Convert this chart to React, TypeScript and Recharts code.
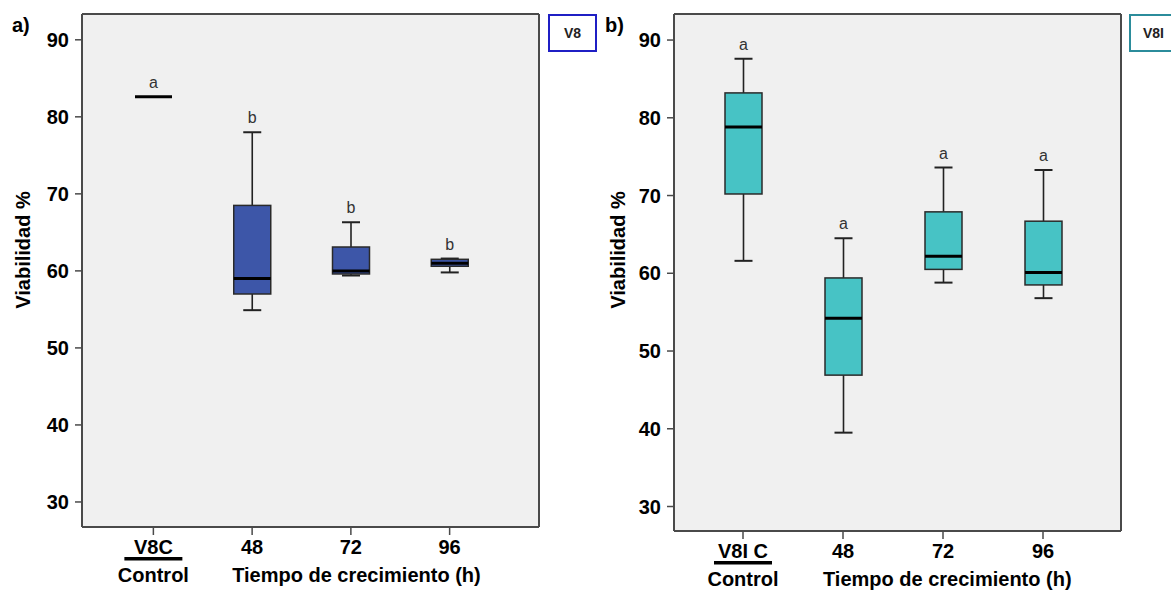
import { ComposedChart, Bar, XAxis, YAxis, CartesianGrid } from 'recharts'

// Caja y bigotes (Viabilidad %)
const GRUPOS_A = ['V8C', '48', '72', '96']
const MIN_A = [82.6, 54.9, 59.4, 59.8]
const Q1_A = [82.6, 57.0, 59.6, 60.6]
const MED_A = [82.6, 59.0, 60.0, 61.0]
const Q3_A = [82.6, 68.5, 63.1, 61.5]
const MAX_A = [82.6, 78.0, 66.3, 61.6]
const LETRAS_A = ['a', 'b', 'b', 'b']

const GRUPOS_B = ['V8I C', '48', '72', '96']
const MIN_B = [61.6, 39.5, 58.8, 56.8]
const Q1_B = [70.2, 46.9, 60.5, 58.5]
const MED_B = [78.8, 54.2, 62.2, 60.1]
const Q3_B = [83.2, 59.4, 67.9, 66.7]
const MAX_B = [87.6, 64.5, 73.6, 73.3]
const LETRAS_B = ['a', 'a', 'a', 'a']

const Y_TICKS = [30, 40, 50, 60, 70, 80, 90]

const FONT = '"Liberation Sans", Arial, sans-serif'
const FONDO = '#f0f0f0'
const MARCO = '#4a4a4a'
const AZUL = '#3d56a8'
const TURQUESA = '#47c3c5'

type Fila = { grupo: string; min: number; q1: number; med: number; q3: number; max: number; letra: string }

function filas(g: string[], mn: number[], q1: number[], md: number[], q3: number[], mx: number[], l: string[]): Fila[] {
  return g.map((grupo, i) => ({ grupo, min: mn[i], q1: q1[i], med: md[i], q3: q3[i], max: mx[i], letra: l[i] }))
}

const DATOS_A = filas(GRUPOS_A, MIN_A, Q1_A, MED_A, Q3_A, MAX_A, LETRAS_A)
const DATOS_B = filas(GRUPOS_B, MIN_B, Q1_B, MED_B, Q3_B, MAX_B, LETRAS_B)

// La barra cubre [min, max]; el resto se sitúa dentro de ese tramo ya escalado.
function makeCaja(fill: string) {
  return function Caja(props: any) {
    const { x, y, width, height, payload } = props
    const top = Math.min(y, y + height)
    const h = Math.abs(height)
    const rango = payload.max - payload.min
    const py = (v: number) => (rango === 0 ? top : top + ((payload.max - v) / rango) * h)
    const cx = x + width / 2
    const cap = 9
    const yMax = py(payload.max)
    const yMin = py(payload.min)
    const yQ3 = py(payload.q3)
    const yQ1 = py(payload.q1)
    const yMed = py(payload.med)
    return (
      <g>
        {payload.max > payload.q3 && (
          <>
            <line x1={cx} x2={cx} y1={yMax} y2={yQ3} stroke="#222" strokeWidth={1.6} />
            <line x1={cx - cap} x2={cx + cap} y1={yMax} y2={yMax} stroke="#222" strokeWidth={2} />
          </>
        )}
        {payload.min < payload.q1 && (
          <>
            <line x1={cx} x2={cx} y1={yQ1} y2={yMin} stroke="#222" strokeWidth={1.6} />
            <line x1={cx - cap} x2={cx + cap} y1={yMin} y2={yMin} stroke="#222" strokeWidth={2} />
          </>
        )}
        {payload.q3 > payload.q1 && (
          <rect x={x} y={yQ3} width={width} height={yQ1 - yQ3} fill={fill} stroke="#2a2a2a" strokeWidth={1.5} />
        )}
        <line x1={x} x2={x + width} y1={yMed} y2={yMed} stroke="#000" strokeWidth={3} />
        <text x={cx} y={yMax - 9} textAnchor="middle" fontFamily={FONT} fontSize={16} fill="#333">
          {payload.letra}
        </text>
      </g>
    )
  }
}

function TickGrupo(props: any) {
  const { x, y, payload, index } = props
  return (
    <g>
      <text x={x} y={y + 17} textAnchor="middle" fontFamily={FONT} fontWeight="bold" fontSize={20} fill="#000">
        {payload.value}
      </text>
      {index === 0 && (
        <>
          <rect x={x - 29} y={y + 20} width={58} height={3.5} fill="#000" />
          <text x={x} y={y + 45} textAnchor="middle" fontFamily={FONT} fontWeight="bold" fontSize={20} fill="#000">
            Control
          </text>
        </>
      )}
      {index === 1 && (
        <text x={x - 20} y={y + 45} textAnchor="start" fontFamily={FONT} fontWeight="bold" fontSize={20} fill="#000">
          Tiempo de crecimiento (h)
        </text>
      )}
    </g>
  )
}

function EtiquetaY({ x0 }: { x0: number }) {
  return (
    <text
      x={x0}
      y={250}
      transform={`rotate(-90 ${x0} 250)`}
      textAnchor="middle"
      dominantBaseline="central"
      fontFamily={FONT}
      fontWeight="bold"
      fontSize={20}
      fill="#000"
    >
      Viabilidad %
    </text>
  )
}

// Marco completo del área de trazado: líneas de la rejilla sólo en los bordes.
const bordesH = ({ offset }: any) => [offset.top, offset.top + offset.height]
const bordesV = ({ offset }: any) => [offset.left, offset.left + offset.width]

interface PanelProps {
  datos: Fila[]
  fill: string
  ancho: number
  dominio: [number, number]
  margen: { top: number; right: number; bottom: number; left: number }
  padding: { left: number; right: number }
  labelX: number
}

function Panel({ datos, fill, ancho, dominio, margen, padding, labelX }: PanelProps) {
  return (
    <ComposedChart width={ancho} height={591} data={datos} margin={margen}>
      <CartesianGrid
        fill={FONDO}
        stroke={MARCO}
        strokeWidth={2}
        horizontalCoordinatesGenerator={bordesH}
        verticalCoordinatesGenerator={bordesV}
      />
      <XAxis
        dataKey="grupo"
        type="category"
        padding={padding}
        height={30}
        interval={0}
        tickSize={8}
        tickLine={{ stroke: MARCO, strokeWidth: 1.5 }}
        axisLine={{ stroke: MARCO, strokeWidth: 2 }}
        tick={<TickGrupo />}
      />
      <YAxis
        type="number"
        domain={dominio}
        allowDataOverflow
        ticks={Y_TICKS}
        width={50}
        tickSize={7}
        tickMargin={6}
        tickLine={{ stroke: MARCO, strokeWidth: 1.5 }}
        axisLine={{ stroke: MARCO, strokeWidth: 2 }}
        tick={{ fontFamily: FONT, fontWeight: 'bold', fontSize: 20, fill: '#000' }}
        label={<EtiquetaY x0={labelX} />}
      />
      <Bar dataKey={(d: Fila) => [d.min, d.max]} barSize={37} shape={makeCaja(fill)} isAnimationActive={false} />
    </ComposedChart>
  )
}

const cajaLeyenda = (color: string): React.CSSProperties => ({
  position: 'absolute',
  top: 14,
  width: 45,
  height: 34,
  border: `2.5px solid ${color}`,
  background: '#fff',
  display: 'flex',
  alignItems: 'center',
  justifyContent: 'center',
  fontFamily: FONT,
  fontWeight: 'bold',
  fontSize: 14,
  color: '#222',
})

const letraPanel: React.CSSProperties = {
  position: 'absolute',
  top: 14,
  fontFamily: FONT,
  fontWeight: 'bold',
  fontSize: 20,
  color: '#000',
  lineHeight: '22px',
}

export default function App() {
  return (
    <div style={{ position: 'absolute', left: 0, top: 0, width: 1171, height: 591, overflow: 'hidden', background: '#fff' }}>
      <div style={{ position: 'absolute', left: 0, top: 0 }}>
        <Panel
          datos={DATOS_A}
          fill={AZUL}
          ancho={590}
          dominio={[26.75, 93.35]}
          margen={{ top: 14, right: 51, bottom: 34, left: 32 }}
          padding={{ left: 22, right: 40 }}
          labelX={23}
        />
      </div>
      <div style={{ position: 'absolute', left: 590, top: 0 }}>
        <Panel
          datos={DATOS_B}
          fill={TURQUESA}
          ancho={581}
          dominio={[26.85, 93.35]}
          margen={{ top: 14, right: 50, bottom: 30, left: 34 }}
          padding={{ left: 19, right: 28 }}
          labelX={28}
        />
      </div>
      <div style={{ ...letraPanel, left: 12 }}>a)</div>
      <div style={{ ...letraPanel, left: 605 }}>b)</div>
      <div style={{ ...cajaLeyenda('#1f1fc4'), left: 548 }}>V8</div>
      <div style={{ ...cajaLeyenda('#2b8c9b'), left: 1129 }}>V8I</div>
    </div>
  )
}
